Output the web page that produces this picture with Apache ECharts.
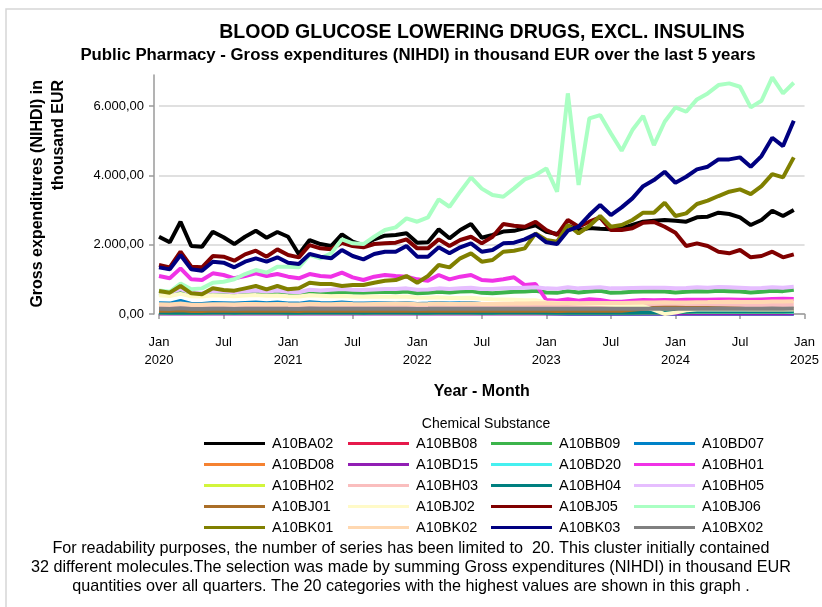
<!DOCTYPE html>
<html>
<head>
<meta charset="utf-8">
<script src="https://cdn.jsdelivr.net/npm/echarts@6/dist/echarts.min.js"></script>
<style>
  html, body { margin: 0; padding: 0; background: #fff; }
  #chart { width: 822px; height: 607px; }
</style>
</head>
<body>
<div id="chart"></div>
<script>
// months Jan 2020 .. Dec 2024, plus Jan 2025 so the last tick exists
var months = [];
for (var y = 2020; y <= 2024; y++) {
    for (var m = 1; m <= 12; m++) {
        months.push(y + '-' + (m < 10 ? '0' + m : m));
    }
}
months.push('2025-01');

var names = ['A10BA02', 'A10BB08', 'A10BB09', 'A10BD07', 'A10BD08', 'A10BD15', 'A10BD20', 'A10BH01', 'A10BH02', 'A10BH03',
    'A10BH04', 'A10BH05', 'A10BJ01', 'A10BJ02', 'A10BJ05', 'A10BJ06', 'A10BK01', 'A10BK02', 'A10BK03', 'A10BX02'];
var colors = ['#000000', '#e6194b', '#3cb44b', '#0082c8', '#f58231', '#911eb4', '#46f0f0', '#f032e6', '#d2f53c', '#fabebe',
    '#008080', '#e6beff', '#aa6e28', '#fffac8', '#800000', '#aaffc3', '#808000', '#ffd8b1', '#000080', '#808080'];

var A10BA02 = [2231, 2069, 2664, 1962, 1942, 2375, 2214, 2020, 2231, 2404, 2202, 2367, 2231, 1723, 2136, 2020, 1962, 2300, 2087, 1991,
    2155, 2260, 2280, 2329, 2058, 2069, 2444, 2185, 2424, 2597, 2200, 2280, 2380, 2400, 2480, 2560, 2375, 2309, 2550, 2420,
    2480, 2460, 2444, 2473, 2569, 2664, 2693, 2713, 2693, 2664, 2790, 2809, 2924, 2886, 2790, 2569, 2713, 2982, 2828, 3001];
var A10BB08 = [30, 28, 35, 27, 27, 31, 30, 29, 31, 32, 30, 32, 30, 29, 33, 31, 30, 32, 30, 29, 31, 31, 30, 32, 29, 30, 32, 30, 31, 32,
    29, 29, 30, 30, 31, 31, 28, 27, 30, 28, 29, 30, 28, 28, 29, 30, 29, 30, 28, 29, 30, 30, 31, 30, 29, 28, 29, 31, 30, 31];
var A10BB09 = [600, 580, 650, 570, 560, 620, 610, 590, 620, 640, 610, 630, 600, 590, 650, 630, 610, 640, 620, 610,
    630, 640, 630, 650, 600, 610, 640, 620, 650, 660, 610, 600, 620, 640, 650, 670, 620, 610, 660, 620,
    650, 670, 610, 620, 640, 650, 660, 650, 620, 640, 660, 650, 670, 660, 650, 620, 640, 670, 660, 700];
var A10BD07 = [310, 300, 380, 290, 290, 320, 310, 300, 320, 330, 310, 330, 300, 300, 340, 320, 310, 330, 310, 300,
    310, 310, 300, 320, 290, 300, 320, 300, 310, 320, 290, 280, 290, 290, 300, 280, 20, 12, 10, 10,
    10, 10, 10, 10, 10, 10, 10, 10, 10, 10, 10, 10, 10, 10, 10, 10, 10, 10, 10, 10];
var A10BD08 = [100, 96, 112, 94, 93, 104, 101, 97, 103, 106, 100, 104, 99, 96, 107, 103, 101, 105, 101, 99,
    103, 104, 102, 106, 98, 100, 106, 101, 104, 107, 100, 99, 102, 103, 105, 106, 97, 95, 104, 98,
    101, 103, 98, 98, 100, 102, 101, 102, 99, 101, 104, 103, 106, 104, 102, 97, 100, 106, 103, 107];
var A10BD15 = [15, 14, 17, 14, 14, 15, 15, 14, 15, 16, 15, 15, 14, 14, 16, 15, 15, 16, 15, 14, 15, 15, 15, 16, 14, 14, 15, 15, 15, 16,
    14, 14, 15, 15, 15, 16, 14, 14, 15, 14, 15, 15, 14, 14, 15, 15, 14, 15, 14, 14, 15, 15, 15, 15, 14, 14, 14, 15, 15, 15];
var A10BD20 = [70, 67, 80, 65, 64, 72, 70, 67, 71, 73, 69, 72, 68, 66, 74, 71, 69, 72, 69, 67, 70, 70, 69, 72, 66, 67, 70, 68, 69, 71,
    66, 65, 67, 67, 68, 69, 60, 58, 62, 59, 60, 61, 58, 58, 59, 60, 58, 59, 56, 57, 58, 58, 59, 58, 57, 55, 56, 58, 57, 58];
var A10BH01 = [1097, 1030, 1318, 1001, 981, 1174, 1126, 1030, 1097, 1174, 1097, 1154, 1078, 1030, 1154, 1097, 1078, 1193, 1059, 981,
    1078, 1126, 1097, 1078, 1001, 962, 1126, 1001, 1078, 1126, 981, 962, 1001, 1059, 837, 866, 404, 385, 424, 385,
    424, 404, 356, 356, 385, 404, 400, 405, 395, 410, 415, 410, 420, 420, 415, 410, 420, 430, 440, 435];
var A10BH02 = [40, 38, 44, 37, 37, 41, 40, 38, 41, 42, 40, 41, 39, 38, 43, 41, 40, 42, 40, 39, 41, 41, 40, 42, 38, 39, 41, 40, 41, 42,
    39, 38, 40, 40, 41, 42, 38, 37, 40, 38, 39, 40, 38, 38, 39, 40, 41, 45, 55, 64, 70, 72, 75, 74, 73, 70, 72, 76, 74, 78];
var A10BH03 = [250, 242, 275, 238, 236, 256, 250, 243, 255, 262, 248, 258, 246, 240, 265, 255, 250, 260, 252, 246,
    255, 258, 255, 262, 244, 246, 258, 250, 255, 262, 246, 244, 250, 252, 256, 260, 248, 244, 258, 250,
    255, 258, 250, 250, 254, 258, 255, 258, 252, 255, 260, 258, 262, 260, 256, 250, 254, 262, 258, 264];
var A10BH04 = [40, 38, 45, 37, 37, 41, 40, 38, 41, 42, 40, 41, 39, 38, 43, 41, 40, 42, 40, 39, 41, 41, 40, 42, 38, 39, 41, 40, 41, 42,
    39, 38, 40, 40, 41, 42, 38, 37, 40, 38, 39, 40, 38, 38, 39, 40, 41, 45, 55, 65, 70, 72, 75, 74, 73, 70, 72, 76, 74, 78];
var A10BH05 = [650, 620, 720, 610, 600, 660, 650, 630, 660, 680, 650, 680, 640, 630, 700, 680, 700, 720, 700, 690,
    710, 720, 720, 740, 700, 710, 740, 720, 740, 760, 720, 720, 740, 750, 760, 770, 740, 730, 770, 740,
    760, 770, 740, 740, 750, 760, 760, 760, 740, 750, 770, 760, 780, 770, 760, 740, 750, 770, 760, 790];
var A10BJ01 = [95, 91, 106, 89, 88, 98, 95, 91, 97, 100, 94, 98, 93, 90, 101, 97, 95, 99, 95, 93, 97, 98, 96, 100, 92, 93, 98, 95, 97, 100,
    93, 92, 95, 96, 97, 99, 92, 90, 97, 93, 95, 97, 93, 93, 120, 150, 170, 180, 178, 175, 172, 170, 165, 160, 150, 140, 135, 140, 138, 142];
var A10BJ02 = [540, 520, 580, 510, 505, 540, 530, 515, 535, 545, 525, 535, 515, 505, 540, 525, 510, 520, 505, 495,
    505, 500, 495, 500, 475, 470, 480, 465, 465, 470, 440, 425, 420, 410, 400, 400, 330, 315, 320, 300,
    295, 290, 270, 255, 240, 230, 120, 0, 40, 110, 130, 132, 130, 128, 131, 130, 132, 134, 131, 133];
var A10BJ05 = [1414, 1347, 1798, 1366, 1347, 1674, 1655, 1539, 1722, 1827, 1655, 1866, 1703, 1636, 1991, 1895, 1866, 2058, 1962, 1924,
    2020, 2040, 2058, 2155, 1895, 1895, 2155, 1962, 2136, 2231, 2040, 2231, 2597, 2549, 2520, 2664, 2424, 2280, 2713, 2520,
    2664, 2790, 2424, 2424, 2473, 2635, 2655, 2520, 2347, 1962, 2040, 1962, 1798, 1751, 1847, 1636, 1674, 1798, 1636, 1722];
var A10BJ06 = [680, 640, 880, 712, 740, 904, 933, 1001, 1154, 1270, 1193, 1366, 1366, 1347, 1703, 1607, 1751, 2155, 2040, 2020,
    2231, 2424, 2502, 2760, 2664, 2790, 3310, 3097, 3531, 3945, 3620, 3434, 3386, 3627, 3887, 4012, 4204, 3531, 6370, 3723,
    5647, 5743, 5215, 4713, 5310, 5720, 4877, 5550, 5965, 5839, 6196, 6369, 6609, 6658, 6561, 5965, 6156, 6831, 6369, 6676];
var A10BK01 = [664, 616, 808, 597, 568, 741, 693, 674, 741, 808, 712, 808, 712, 741, 904, 866, 866, 808, 837, 837,
    904, 962, 981, 1097, 904, 1097, 1414, 1347, 1607, 1751, 1511, 1558, 1798, 1827, 1895, 2329, 2136, 2087, 2569, 2329,
    2540, 2828, 2520, 2569, 2713, 2924, 2924, 3213, 2828, 2905, 3175, 3271, 3406, 3531, 3598, 3463, 3694, 4040, 3945, 4522];
var A10BK02 = [280, 272, 305, 268, 266, 285, 280, 273, 287, 292, 280, 288, 278, 272, 298, 288, 285, 295, 288, 282,
    292, 295, 293, 300, 285, 288, 300, 292, 298, 305, 292, 290, 298, 300, 305, 310, 310, 305, 318, 310,
    315, 320, 315, 318, 325, 330, 335, 338, 330, 335, 342, 345, 350, 352, 348, 345, 350, 360, 358, 370];
var A10BK03 = [1347, 1289, 1703, 1289, 1251, 1511, 1482, 1347, 1511, 1607, 1511, 1636, 1482, 1443, 1732, 1655, 1607, 1847, 1674, 1578,
    1732, 1798, 1798, 1962, 1655, 1655, 1924, 1751, 1924, 2040, 1798, 1847, 2040, 2058, 2155, 2309, 2069, 2020, 2404, 2520,
    2857, 3146, 2857, 3079, 3339, 3690, 3867, 4107, 3789, 3963, 4175, 4252, 4464, 4464, 4522, 4252, 4560, 5088, 4848, 5579];
var A10BX02 = [150, 145, 165, 143, 142, 152, 150, 146, 152, 155, 149, 153, 148, 145, 156, 151, 150, 154, 150, 148,
    152, 153, 152, 155, 147, 148, 153, 150, 152, 155, 150, 149, 151, 152, 154, 155, 150, 148, 154, 150,
    152, 153, 150, 150, 152, 153, 152, 154, 150, 152, 155, 154, 156, 155, 153, 150, 152, 156, 154, 158];

var values = [A10BA02, A10BB08, A10BB09, A10BD07, A10BD08, A10BD15, A10BD20, A10BH01, A10BH02, A10BH03,
    A10BH04, A10BH05, A10BJ01, A10BJ02, A10BJ05, A10BJ06, A10BK01, A10BK02, A10BK03, A10BX02];

var yTicks = [0, 2000, 4000, 6000];
var legendX = [204, 348, 491, 634];
var font = '"Liberation Sans", Arial, sans-serif';

function fmt(v) {
    var s = Math.round(v).toString().replace(/\B(?=(\d{3})+(?!\d))/g, '.');
    return s + ',00';
}
function tickOn(i) { return i % 6 === 0; }

var series = [];
for (var i = 0; i < names.length; i++) {
    series.push({
        name: names[i],
        type: 'line',
        data: values[i],
        symbol: 'none',
        color: colors[i],
        lineStyle: { width: 4, color: colors[i] },
        emphasis: { disabled: true }
    });
}

var legends = [];
for (var c = 0; c < 4; c++) {
    var d = [];
    for (var r = 0; r < 5; r++) d.push(names[r * 4 + c]);
    legends.push({
        orient: 'vertical',
        left: legendX[c],
        top: 436,
        padding: 0,
        icon: 'rect',
        itemWidth: 61,
        itemHeight: 3,
        itemGap: 6,
        selectedMode: false,
        textStyle: { fontSize: 14.5, lineHeight: 14, color: '#000', fontFamily: font, padding: [0, 0, 0, 2] },
        data: d
    });
}

var chart = echarts.init(document.getElementById('chart'));
var option = {
    animation: false,
    backgroundColor: '#fff',
    textStyle: { fontFamily: font },
    grid: { left: 159, right: 17, top: 75, bottom: 293 },
    xAxis: {
        type: 'category',
        data: months,
        boundaryGap: false,
        offset: 5,
        name: 'Year - Month',
        nameLocation: 'middle',
        nameGap: 65,
        nameTextStyle: { fontSize: 16, fontWeight: 'bold', color: '#000' },
        axisLine: { lineStyle: { color: '#9a9a9a', width: 1.5 } },
        axisTick: { interval: function (i) { return tickOn(i); }, length: 5, lineStyle: { color: '#9a9a9a', width: 1.5 } },
        axisLabel: {
            interval: function (i) { return tickOn(i); },
            color: '#000', fontSize: 13, lineHeight: 18, margin: 14,
            formatter: function (v) {
                var p = v.split('-');
                return p[1] === '01' ? 'Jan\n' + p[0] : 'Jul';
            }
        },
        splitLine: { show: false }
    },
    yAxis: {
        type: 'value',
        min: 0,
        max: 6900,
        interval: 2000,
        offset: 5,
        axisLine: { show: true, lineStyle: { color: '#9a9a9a', width: 1.5 } },
        axisTick: { show: true, length: 5, customValues: yTicks, lineStyle: { color: '#9a9a9a', width: 1.5 } },
        axisLabel: {
            customValues: yTicks,
            color: '#000', fontSize: 13, margin: 10,
            formatter: function (v) { return v % 2000 === 0 ? fmt(v) : ''; }
        },
        splitLine: { lineStyle: { color: ['#d6d6d6', '#d6d6d6', '#d6d6d6', '#d6d6d6', 'rgba(0,0,0,0)'], width: 1.5 } }
    },
    legend: legends,
    series: series,
    graphic: [
        { type: 'rect', z: -10, silent: true, shape: { x: 6, y: 9, width: 900, height: 700 },
          style: { fill: 'none', stroke: '#d6d6d6', lineWidth: 1.5 } },
        { type: 'text', x: 482, y: 33, silent: true,
          style: { text: 'BLOOD GLUCOSE LOWERING DRUGS, EXCL. INSULINS', fontSize: 19.5, fontWeight: 'bold', fontFamily: font,
                   fill: '#000', align: 'center', verticalAlign: 'middle' } },
        { type: 'text', x: 418, y: 55, silent: true,
          style: { text: 'Public Pharmacy - Gross expenditures (NIHDI) in thousand EUR over the last 5 years', fontSize: 16.8,
                   fontWeight: 'bold', fontFamily: font, fill: '#000', align: 'center', verticalAlign: 'middle' } },
        { type: 'text', x: 27, y: 80, rotation: Math.PI / 2, silent: true,
          style: { text: 'Gross expenditures (NIHDI) in\nthousand EUR', fontSize: 16, fontWeight: 'bold', fontFamily: font,
                   lineHeight: 21, fill: '#000', align: 'right', verticalAlign: 'top' } },
        { type: 'text', x: 486, y: 424, silent: true,
          style: { text: 'Chemical Substance', fontSize: 14, fontFamily: font, fill: '#000', align: 'center', verticalAlign: 'middle' } },
        { type: 'text', x: 411, y: 568, silent: true,
          style: { text: 'For readability purposes, the number of series has been limited to  20. This cluster initially contained\n' +
                         '32 different molecules.The selection was made by summing Gross expenditures (NIHDI) in thousand EUR\n' +
                         'quantities over all quarters. The 20 categories with the highest values are shown in this graph .',
                   fontSize: 16.2, lineHeight: 19, fontFamily: font, fill: '#000', align: 'center', verticalAlign: 'middle' } }
    ]
};
chart.setOption(option);
</script>
</body>
</html>
